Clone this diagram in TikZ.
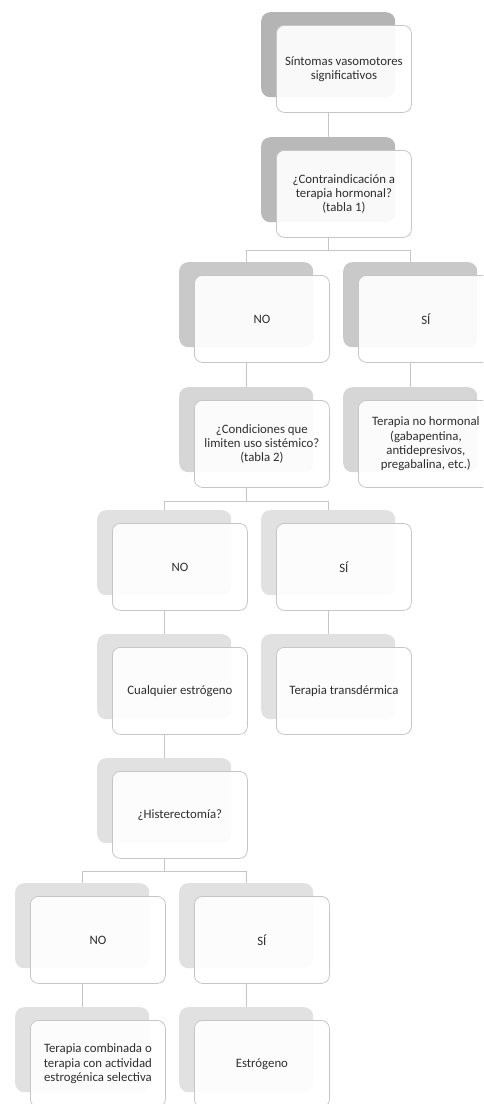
\documentclass[tikz,border=0pt]{standalone}
\usepackage{fontspec}
\setmainfont{Carlito}
\usetikzlibrary{calc}
\definecolor{gA}{HTML}{B4B4B4}
\definecolor{gB}{HTML}{B9B9B9}
\definecolor{gC}{HTML}{C9C9C9}
\definecolor{gD}{HTML}{D6D6D6}
\definecolor{gE}{HTML}{E1E1E1}
\definecolor{edge}{HTML}{C6C6C6}
\definecolor{txt}{HTML}{2E2E2E}
\tikzset{
  backbox/.style={rounded corners=9pt, minimum width=134pt, minimum height=85pt,
    inner sep=0pt, anchor=north west, draw=none},
  frontbox/.style={rounded corners=8pt, minimum width=135pt, minimum height=87pt,
    inner sep=2pt, anchor=north west, draw=edge, line width=0.8pt,
    fill=white, fill opacity=0.92, text opacity=1, text=txt, align=center,
    font=\fontsize{12.8}{14.3}\selectfont},
  link/.style={draw=edge, line width=0.8pt}
}
% \unitbox{name}{x}{y}{color}{text}
\newcommand{\unitbox}[5]{%
  \node[backbox, fill=#4] (#1-b) at (#2,#3) {};
  \node[frontbox] (#1) at (#2+15,#3+13) {#5};
}
\begin{document}
\begin{tikzpicture}[x=1pt,y=-1pt]
\useasboundingbox (0,0) rectangle (483,1104);
\clip (0,0) rectangle (483,1104);
\unitbox{A}{261}{12}{gA}{Síntomas vasomotores\\significativos}
\unitbox{B}{261}{137}{gB}{¿Contraindicación a\\terapia hormonal?\\(tabla 1)}
\unitbox{C}{179}{262}{gC}{NO}
\unitbox{D}{343}{262}{gC}{SÍ}
\unitbox{E}{179}{387}{gD}{¿Condiciones que\\limiten uso sistémico?\\(tabla 2)}
\unitbox{F}{343}{387}{gD}{Terapia no hormonal\\(gabapentina,\\antidepresivos,\\pregabalina, etc.)}
\unitbox{G}{97}{510}{gE}{NO}
\unitbox{H}{261}{510}{gE}{SÍ}
\unitbox{I}{97}{634}{gE}{Cualquier estrógeno}
\unitbox{J}{261}{634}{gE}{Terapia transdérmica}
\unitbox{K}{97}{758}{gE}{¿Histerectomía?}
\unitbox{L}{15}{883}{gE}{NO}
\unitbox{M}{179}{883}{gE}{SÍ}
\unitbox{N}{15}{1007}{gE}{Terapia combinada o\\terapia con actividad\\estrogénica selectiva}
\unitbox{O}{179}{1007}{gE}{Estrógeno}
% straight links
\draw[link] (A-b.center |- A.south) -- (B-b.north);
\draw[link] (C-b.center |- C.south) -- (E-b.north);
\draw[link] (D-b.center |- D.south) -- (F-b.north);
\draw[link] (G-b.center |- G.south) -- (I-b.north);
\draw[link] (H-b.center |- H.south) -- (J-b.north);
\draw[link] (I-b.center |- I.south) -- (K-b.north);
\draw[link] (L-b.center |- L.south) -- (N-b.north);
\draw[link] (M-b.center |- M.south) -- (O-b.north);
% branching links
\draw[link] (B-b.center |- B.south) -- ++(0,12.5) -| (C-b.north);
\draw[link] (B-b.center |- B.south) -- ++(0,12.5) -| (D-b.north);
\draw[link] (E-b.center |- E.south) -- ++(0,13.5) -| (G-b.north);
\draw[link] (E-b.center |- E.south) -- ++(0,13.5) -| (H-b.north);
\draw[link] (K-b.center |- K.south) -- ++(0,13) -| (L-b.north);
\draw[link] (K-b.center |- K.south) -- ++(0,13) -| (M-b.north);
\end{tikzpicture}
\end{document}
